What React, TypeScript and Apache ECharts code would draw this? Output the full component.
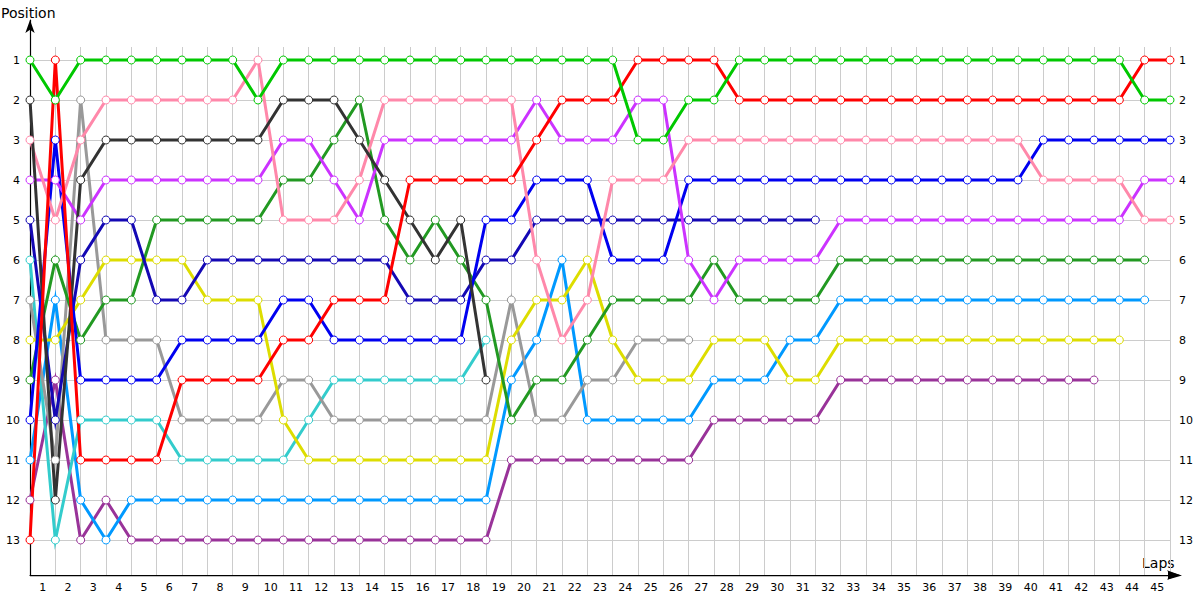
import React, { useEffect, useRef } from 'react';
import * as echarts from 'echarts';

// Lap labels (centred between lap grid lines)
const lapLabels: string[] = [
  '1','2','3','4','5','6','7','8','9','10','11','12','13','14','15','16','17','18','19','20',
  '21','22','23','24','25','26','27','28','29','30','31','32','33','34','35','36','37','38','39','40',
  '41','42','43','44','45',
];

// Positions per lap (index 0 = grid/start, 1..45 = laps)
const greenPos = [1,2,1,1,1,1,1,1,1,2, 1,1,1,1,1,1,1,1,1,1, 1,1,1,1,3,3,2,2,1,1, 1,1,1,1,1,1,1,1,1,1, 1,1,1,1,2,2];
const redPos = [13,1,11,11,11,11,9,9,9,9, 8,8,7,7,7,4,4,4,4,4, 3,2,2,2,1,1,1,1,2,2, 2,2,2,2,2,2,2,2,2,2, 2,2,2,2,1,1];
const blackPos = [2,12,4,3,3,3,3,3,3,3, 2,2,2,3,4,5,6,5,9];
const pinkPos = [3,5,3,2,2,2,2,2,2,1, 5,5,5,4,2,2,2,2,2,2, 6,8,7,4,4,4,3,3,3,3, 3,3,3,3,3,3,3,3,3,3, 4,4,4,4,5,5];
const violetPos = [4,4,5,4,4,4,4,4,4,4, 3,3,4,5,3,3,3,3,3,3, 2,3,3,3,2,2,6,7,6,6, 6,6,5,5,5,5,5,5,5,5, 5,5,5,5,4,4];
const bluePos = [10,3,9,9,9,9,8,8,8,8, 7,7,8,8,8,8,8,8,5,5, 4,4,4,6,6,6,4,4,4,4, 4,4,4,4,4,4,4,4,4,4, 3,3,3,3,3,3];
const navyPos = [5,10,6,5,5,7,7,6,6,6, 6,6,6,6,6,7,7,7,6,6, 5,5,5,5,5,5,5,5,5,5, 5,5];
const darkGreenPos = [9,6,8,7,7,5,5,5,5,5, 4,4,3,2,5,6,5,6,7,10, 9,9,8,7,7,7,7,6,7,7, 7,7,6,6,6,6,6,6,6,6, 6,6,6,6,6];
const yellowPos = [8,8,7,6,6,6,6,7,7,7, 10,11,11,11,11,11,11,11,11,8, 7,7,6,8,9,9,9,8,8,8, 9,9,8,8,8,8,8,8,8,8, 8,8,8,8];
const grayPos = [7,11,2,8,8,8,10,10,10,10, 9,9,10,10,10,10,10,10,10,7, 10,10,9,9,8,8,8];
const cyanPos = [6,13,10,10,10,10,11,11,11,11, 11,10,9,9,9,9,9,9,8];
const lightBluePos = [11,7,12,13,12,12,12,12,12,12, 12,12,12,12,12,12,12,12,12,9, 8,6,10,10,10,10,10,9,9,9, 8,8,7,7,7,7,7,7,7,7, 7,7,7,7,7];
const purplePos = [12,9,13,12,13,13,13,13,13,13, 13,13,13,13,13,13,13,13,13,11, 11,11,11,11,11,11,11,10,10,10, 10,10,9,9,9,9,9,9,9,9, 9,9,9];

const drivers = [
  { name: 'purple', color: '#993399', data: purplePos },
  { name: 'lightblue', color: '#0099ff', data: lightBluePos },
  { name: 'cyan', color: '#33cccc', data: cyanPos },
  { name: 'gray', color: '#999999', data: grayPos },
  { name: 'yellow', color: '#dddd00', data: yellowPos },
  { name: 'darkgreen', color: '#229922', data: darkGreenPos },
  { name: 'navy', color: '#1408b4', data: navyPos },
  { name: 'blue', color: '#0000f0', data: bluePos },
  { name: 'violet', color: '#cc33ff', data: violetPos },
  { name: 'pink', color: '#ff88aa', data: pinkPos },
  { name: 'black', color: '#333333', data: blackPos },
  { name: 'red', color: '#ff0000', data: redPos },
  { name: 'green', color: '#00c800', data: greenPos },
];

const FONT = 'DejaVu Sans';

export default function App() {
  const ref = useRef<HTMLDivElement>(null);
  useEffect(() => {
    if (!ref.current) return;
    const chart = echarts.init(ref.current, undefined, { renderer: 'svg' });
    const yLabelFmt = (v: number) => (Number.isInteger(v) && v >= 1 && v <= 13 ? String(v) : '');
    chart.setOption({
      animation: false,
      backgroundColor: '#ffffff',
      textStyle: { fontFamily: FONT },
      grid: [
        { left: 30, right: 30, top: 47, bottom: 25, outerBoundsMode: 'none' },
        { left: 30, right: 30, top: 20, bottom: 25, outerBoundsMode: 'none' },
        { left: 30, right: 20, top: 20, bottom: 25, outerBoundsMode: 'none' },
      ],
      xAxis: [
        {
          gridIndex: 0, type: 'value', min: 0, max: 45, interval: 1,
          axisLine: { show: false },
          axisTick: { show: false }, axisLabel: { show: false },
          splitLine: { show: true, lineStyle: { color: '#cccccc', width: 1 } },
        },
        { gridIndex: 1, type: 'value', min: 0, max: 45, show: false },
        {
          gridIndex: 2, type: 'value', min: 0, max: 45.5, interval: 1, position: 'bottom',
          axisLine: { show: true, onZero: false, lineStyle: { color: '#000000', width: 1.2 }, symbol: ['none', 'arrow'], symbolSize: [7, 13] },
          axisTick: { show: false }, splitLine: { show: false },
          axisLabel: { show: false },
        },
        {
          gridIndex: 1, type: 'category', data: lapLabels, boundaryGap: true, position: 'bottom',
          axisLine: { show: false }, axisTick: { show: false }, splitLine: { show: false },
          axisLabel: { color: '#000', fontSize: 11, fontFamily: FONT, margin: 7, interval: 0 },
        },
      ],
      yAxis: [
        { gridIndex: 0, type: 'value', show: false, min: 0, max: 1 },
        {
          gridIndex: 1, type: 'value', inverse: true, min: 0, max: 13.875, interval: 1, position: 'left',
          axisLine: { show: true, onZero: false, lineStyle: { color: '#000', width: 1.2 }, symbol: ['none', 'arrow'], symbolSize: [7, 13] },
          axisTick: { show: false },
          axisLabel: { formatter: yLabelFmt, color: '#000', fontSize: 11, fontFamily: FONT, margin: 10 },
          splitLine: { show: true, showMinLine: false, showMaxLine: false, lineStyle: { color: '#cccccc', width: 1 } },
        },
        {
          gridIndex: 1, type: 'value', inverse: true, min: 0, max: 13.875, interval: 1, position: 'right',
          axisLine: { show: false }, axisTick: { show: false }, splitLine: { show: false },
          axisLabel: { formatter: yLabelFmt, color: '#000', fontSize: 11, fontFamily: FONT, margin: 9 },
        },
        { gridIndex: 2, type: 'value', show: false, min: 0, max: 1 },
      ],
      graphic: [
        { type: 'text', left: 1, top: 6, style: { text: 'Position', font: `14px "${FONT}"`, fill: '#000' } },
        { type: 'text', left: 1142, top: 556, style: { text: 'Laps', font: `14px "${FONT}"`, fill: '#000' } },
        { type: 'rect', z: 100, shape: { x: 30, y: 575, width: 1144, height: 1.2 }, style: { fill: '#000000' } },
        { type: 'polygon', z: 100, shape: { points: [[1168, 571.5], [1182, 575.6], [1168, 579.5]] }, style: { fill: '#000000' } },
      ],
      series: drivers.map((d) => ({
        name: d.name,
        type: 'line',
        xAxisIndex: 1,
        yAxisIndex: 1,
        data: d.data.map((p, i) => [i, p]),
        symbol: 'circle',
        symbolSize: 8,
        showSymbol: true,
        showAllSymbol: true,
        silent: true,
        emphasis: { disabled: true },
        lineStyle: { color: d.color, width: 3, join: 'miter', miterLimit: 8 },
        itemStyle: { color: '#ffffff', borderColor: d.color, borderWidth: 1 },
      })),
    });
    return () => chart.dispose();
  }, []);
  return <div ref={ref} style={{ position: 'absolute', left: 0, top: 0, width: 1200, height: 600 }} />;
}
